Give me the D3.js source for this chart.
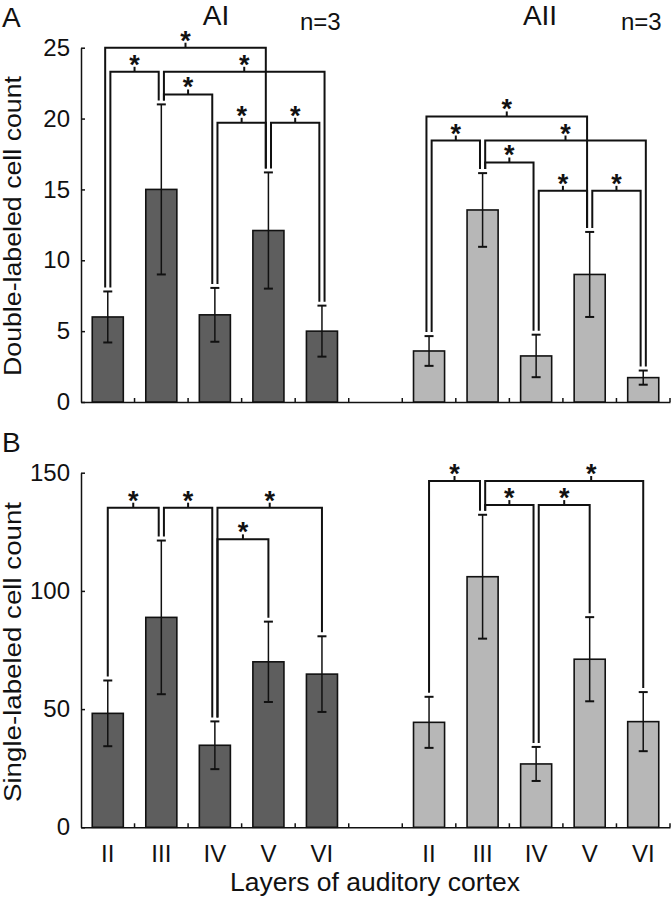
<!DOCTYPE html>
<html><head><meta charset="utf-8">
<script src="https://cdn.jsdelivr.net/npm/d3@7"></script>
<style>
body{margin:0;background:#fff}
svg{display:block}
text{font-family:"Liberation Sans",Arial,Helvetica,sans-serif;fill:#111}
</style>
</head><body>
<svg id="chart" width="671" height="900"></svg>
<script>
// ---------- data ----------
const layers = ["II", "III", "IV", "V", "VI"];
const regions = ["AI", "AII"];
const nLabel = "n=3";

const doubleAI = [6.0, 15.0, 6.15, 12.1, 5.0];
const doubleAIErr = [1.8, 6.0, 1.9, 4.1, 1.8];
const doubleAII = [3.6, 13.55, 3.25, 9.0, 1.72];
const doubleAIIErr = [1.05, 2.6, 1.5, 3.0, 0.5];

const singleAI = [48.2, 88.8, 34.7, 70.0, 64.8];
const singleAIErr = [13.9, 32.5, 10.1, 17.0, 16.0];
const singleAII = [44.4, 106.0, 26.8, 71.1, 44.7];
const singleAIIErr = [10.8, 26.2, 7.2, 17.8, 12.5];

// significance brackets: [layer a, layer b, bracket height (data units), optional star position (layer index)]
const doubleAIBrackets = [[0, 3, 25.0], [0, 1, 23.3], [1, 4, 23.3], [1, 2, 21.7], [2, 3, 19.7], [3, 4, 19.7]];
const doubleAIIBrackets = [[0, 3, 20.15], [0, 1, 18.45], [1, 4, 18.45], [1, 2, 16.9], [2, 3, 14.9], [3, 4, 14.9]];
const singleAIBrackets = [[0, 1, 135.2], [1, 2, 135.2], [2, 4, 135.2], [2, 3, 121.8]];
const singleAIIBrackets = [[0, 1, 146.5], [1, 4, 146.5, 3], [1, 2, 136.3], [2, 3, 136.3]];

const doubleTicks = [0, 5, 10, 15, 20, 25];
const singleTicks = [0, 50, 100, 150];

// ---------- layout ----------
const svg = d3.select("#chart");
const FONT = "'Liberation Sans', Arial, Helvetica, sans-serif";
const darkFill = "#5e5e5e", lightFill = "#b7b7b7";

const slotKeys = [
  ...layers.map(l => regions[0] + " " + l),
  "gap",
  ...layers.map(l => regions[1] + " " + l)
];
const x = d3.scaleBand().domain(slotKeys).range([81, 670]).padding(0);
const bw = x.bandwidth();
const barW = bw * 0.58;
const cx = k => x(k) + bw / 2;

const panels = [
  {
    letter: "A", letterY: 27, domain: [0, 25], range: [402, 47.7], ticks: doubleTicks,
    title: "Double-labeled cell count", titleY: 226,
    series: [
      {region: regions[0], means: doubleAI, errs: doubleAIErr, fill: darkFill, brackets: doubleAIBrackets},
      {region: regions[1], means: doubleAII, errs: doubleAIIErr, fill: lightFill, brackets: doubleAIIBrackets}
    ]
  },
  {
    letter: "B", letterY: 452, domain: [0, 150], range: [827.3, 472.7], ticks: singleTicks,
    title: "Single-labeled cell count", titleY: 652,
    series: [
      {region: regions[0], means: singleAI, errs: singleAIErr, fill: darkFill, brackets: singleAIBrackets},
      {region: regions[1], means: singleAII, errs: singleAIIErr, fill: lightFill, brackets: singleAIIBrackets}
    ]
  }
];

function legOffsets(brackets) {
  const ends = {};
  brackets.forEach((b, i) => {
    (ends[b[0]] = ends[b[0]] || []).push({i, side: 0, dir: 1, h: b[2]});
    (ends[b[1]] = ends[b[1]] || []).push({i, side: 1, dir: -1, h: b[2]});
  });
  const off = brackets.map(() => [0, 0]);
  Object.values(ends).forEach(list => {
    const dirs = new Set(list.map(e => e.dir));
    if (list.length === 1) { off[list[0].i][list[0].side] = 0; return; }
    if (dirs.size === 2) {
      list.forEach(e => off[e.i][e.side] = e.dir * 2.6);
    } else {
      const maxH = d3.max(list, e => e.h);
      list.forEach(e => off[e.i][e.side] = (e.h === maxH ? -e.dir : e.dir) * 2.6);
    }
  });
  return off;
}

panels.forEach(p => {
  const y = d3.scaleLinear().domain(p.domain).range(p.range);
  const g = svg.append("g");

  // y axis
  const ya = g.append("g").attr("transform", "translate(81,0)")
    .call(d3.axisLeft(y).tickValues(p.ticks).tickSizeInner(-4).tickSizeOuter(0).tickPadding(11));
  ya.attr("font-family", FONT).attr("font-size", 24);
  ya.selectAll("path.domain").attr("stroke", "#111").attr("stroke-width", 1.5);
  ya.selectAll(".tick line").attr("stroke", "#111").attr("stroke-width", 1.5);
  ya.selectAll(".tick text").attr("fill", "#111");

  // x axis
  const y0 = y(0);
  const xa = g.append("g").attr("transform", `translate(0,${y0})`)
    .call(d3.axisBottom(x).tickSize(0).tickPadding(17.5)
      .tickFormat(k => k === "gap" ? "" : k.split(" ")[1]));
  xa.attr("font-family", FONT).attr("font-size", 24);
  xa.selectAll("path.domain").attr("stroke", "#111").attr("stroke-width", 1.5);
  xa.selectAll(".tick text").attr("fill", "#111");
  if (p.letter === "A") xa.selectAll(".tick text").remove();
  // boundary ticks
  g.append("g").selectAll("line").data(slotKeys).join("line")
    .attr("x1", k => x(k) + bw).attr("x2", k => x(k) + bw)
    .attr("y1", y0).attr("y2", y0 - 4)
    .attr("stroke", "#111").attr("stroke-width", 1.5);

  p.series.forEach(s => {
    const keys = layers.map(l => s.region + " " + l);
    const sg = g.append("g");
    // bars
    sg.selectAll("rect").data(s.means).join("rect")
      .attr("x", (d, i) => cx(keys[i]) - barW / 2)
      .attr("width", barW)
      .attr("y", d => y(d))
      .attr("height", d => y0 - y(d))
      .attr("fill", s.fill).attr("stroke", "#111").attr("stroke-width", 1.6);
    // error bars
    const eg = sg.append("g").attr("stroke", "#111");
    eg.selectAll("line.v").data(s.means).join("line").attr("class", "v")
      .attr("x1", (d, i) => cx(keys[i])).attr("x2", (d, i) => cx(keys[i]))
      .attr("y1", (d, i) => y(d - s.errs[i])).attr("y2", (d, i) => y(d + s.errs[i]))
      .attr("stroke-width", 1.5);
    [-1, 1].forEach(sg2 => {
      const cls = "c" + (sg2 > 0 ? "t" : "b");
      eg.selectAll("line." + cls).data(s.means).join("line").attr("class", cls)
        .attr("x1", (d, i) => cx(keys[i]) - 4.5).attr("x2", (d, i) => cx(keys[i]) + 4.5)
        .attr("y1", (d, i) => y(d + sg2 * s.errs[i])).attr("y2", (d, i) => y(d + sg2 * s.errs[i]))
        .attr("stroke-width", 2);
    });
    // brackets
    const offs = legOffsets(s.brackets);
    const bg = sg.append("g");
    s.brackets.forEach((b, i) => {
      const [a, c, h, starAt] = b;
      const xa1 = cx(keys[a]) + offs[i][0];
      const xb1 = cx(keys[c]) + offs[i][1];
      const yh = y(h);
      const ya1 = y(s.means[a] + s.errs[a]) - 4;
      const yb1 = y(s.means[c] + s.errs[c]) - 4;
      const mid = starAt === undefined ? (xa1 + xb1) / 2 : cx(keys[starAt]) + 1.5;
      bg.append("path")
        .attr("d", `M${xa1},${ya1}V${yh}H${xb1}V${yb1}`)
        .attr("fill", "none").attr("stroke", "#111").attr("stroke-width", 2)
        .attr("stroke-linejoin", "miter");
      bg.append("line").attr("x1", mid).attr("x2", mid).attr("y1", yh).attr("y2", yh - 5)
        .attr("stroke", "#111").attr("stroke-width", 2);
      bg.append("text").attr("x", mid).attr("y", yh + 2)
        .attr("text-anchor", "middle").attr("font-size", 27).attr("font-weight", "bold")
        .text("*");
    });
  });

  // y title
  g.append("text")
    .attr("transform", `translate(21,${p.titleY}) rotate(-90)`)
    .attr("text-anchor", "middle").attr("font-size", 23)
    .attr("textLength", 300).attr("lengthAdjust", "spacingAndGlyphs")
    .text(p.title);
  // panel letter
  g.append("text").attr("x", 2).attr("y", p.letterY).attr("font-size", 28).text(p.letter);
});

// region titles
svg.append("text").attr("x", 216).attr("y", 25).attr("text-anchor", "middle").attr("font-size", 28).text(regions[0]);
svg.append("text").attr("x", 540).attr("y", 25).attr("text-anchor", "middle").attr("font-size", 28).text(regions[1]);
svg.append("text").attr("x", 300).attr("y", 30).attr("font-size", 24).text(nLabel);
svg.append("text").attr("x", 621).attr("y", 30).attr("font-size", 24).text(nLabel);

// x title
svg.append("text").attr("x", 375).attr("y", 891).attr("text-anchor", "middle")
  .attr("font-size", 25).attr("textLength", 290).attr("lengthAdjust", "spacingAndGlyphs")
  .text("Layers of auditory cortex");
</script>
</body></html>
